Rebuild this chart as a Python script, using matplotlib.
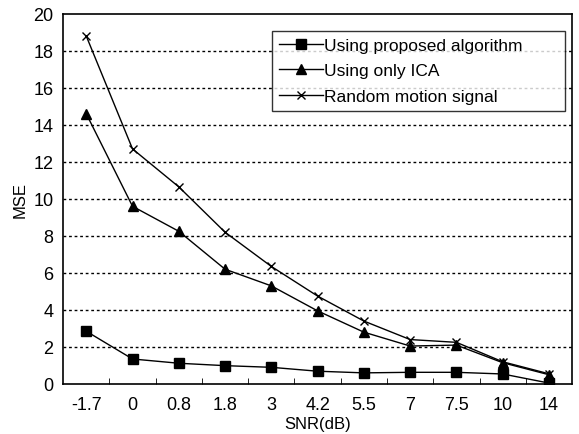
import numpy as np
import matplotlib
matplotlib.use("Agg")
import matplotlib.pyplot as plt

plt.rcParams["font.family"] = ["Liberation Sans", "DejaVu Sans"]

snr_labels = ["-1.7", "0", "0.8", "1.8", "3", "4.2", "5.5", "7", "7.5", "10", "14"]
mse_proposed = [2.85, 1.35, 1.12, 0.99, 0.9, 0.69, 0.6, 0.63, 0.63, 0.54, 0.05]
mse_ica = [14.6, 9.6, 8.25, 6.2, 5.3, 3.95, 2.8, 2.05, 2.1, 1.15, 0.5]
mse_random = [18.8, 12.7, 10.65, 8.2, 6.35, 4.75, 3.4, 2.4, 2.25, 1.2, 0.55]

x = np.arange(len(snr_labels))

fig = plt.figure(figsize=(5.79, 4.35), dpi=100)
ax = fig.add_axes([0.109, 0.115, 0.879, 0.851])

ax.plot(x, mse_proposed, color="black", lw=1, marker="s", ms=7,
        label="Using proposed algorithm")
ax.plot(x, mse_ica, color="black", lw=1, marker="^", ms=7,
        label="Using only ICA")
ax.plot(x, mse_random, color="black", lw=1, marker="x", ms=6, mew=1,
        label="Random motion signal")

ax.set_xlim(-0.5, len(snr_labels) - 0.5)
ax.set_ylim(0, 20)
ax.set_yticks(np.arange(0, 21, 2))
ax.set_xticks(x)
ax.set_xticklabels(snr_labels)
ax.set_xticks(np.arange(0.5, len(snr_labels) - 0.5, 1), minor=True)
ax.tick_params(axis="x", which="major", length=0, labelsize=13, pad=9)
ax.tick_params(axis="x", which="minor", length=4, direction="in")
ax.tick_params(axis="y", length=0, labelsize=13, pad=7)

for yv in range(2, 20, 2):
    ax.axhline(yv, color="black", lw=1, ls=(0, (2, 2)), zorder=0)

for s in ax.spines.values():
    s.set_linewidth(1.2)

ax.set_xlabel("SNR(dB)", fontsize=12, labelpad=2)
ax.set_ylabel("MSE", fontsize=12, labelpad=4)

# wide legend box stretched to the right like the spreadsheet original
leg = ax.legend(loc="upper left", bbox_to_anchor=(0.411, 0.738, 0.575, 0.216),
                mode="expand", fontsize=12.5, frameon=True, fancybox=False,
                handlelength=2.5, handletextpad=0.1, borderpad=0.4,
                labelspacing=0.6, borderaxespad=0)
leg.get_frame().set_edgecolor("black")
leg.get_frame().set_linewidth(1)

fig.savefig("out.png", dpi=100)
